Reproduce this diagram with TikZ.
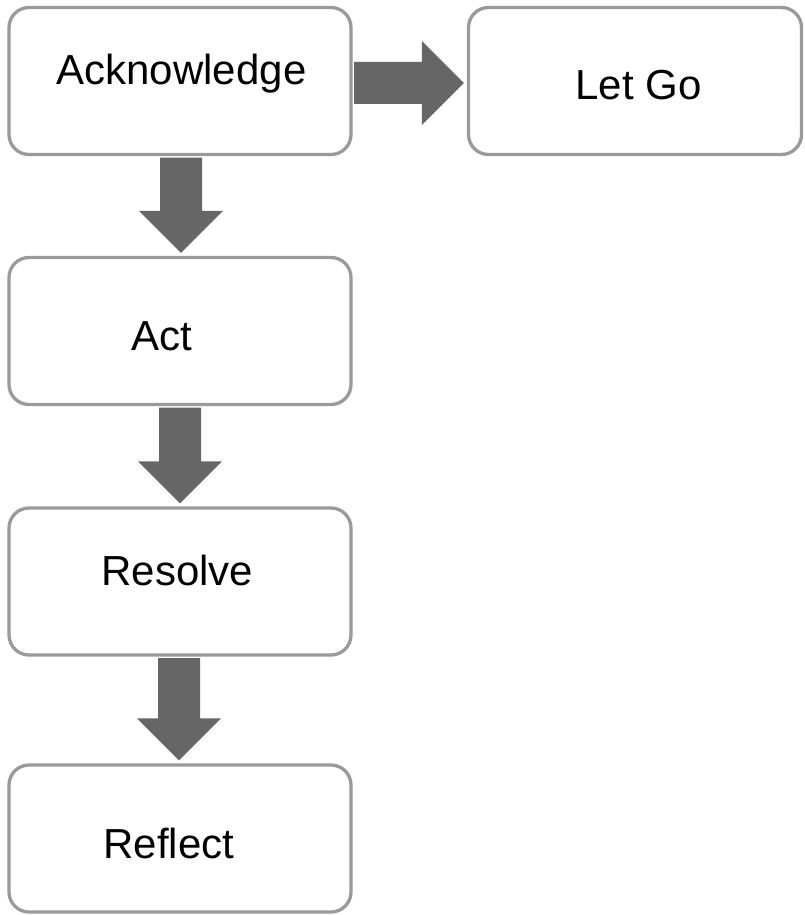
\documentclass[tikz,border=0pt]{standalone}
\usepackage{fontspec}
\setmainfont{Liberation Sans}
\usetikzlibrary{calc}
\definecolor{boxline}{HTML}{9A9A9A}
\definecolor{arrowfill}{HTML}{666666}
\tikzset{
  stepbox/.style={draw=boxline, line width=3.3pt, fill=white, rounded corners=20pt,
    rectangle, inner sep=0pt, minimum height=147pt},
  lbl/.style={anchor=base, inner sep=0pt, font=\fontsize{42}{50}\selectfont},
  fatarrow/.style={fill=arrowfill, draw=none}
}
% thick block arrow pointing down from #1 to #2, shifted sideways by #3
\newcommand{\fatdown}[3]{%
  \fill[fatarrow] let \p1=($(#1.south)+(#3,1.5)$), \p2=(#2.north) in
    (\x1-21pt,\y1) -- (\x1-21pt,\y2+45pt) -- (\x1-42pt,\y2+45pt) -- (\x1,\y2+3pt)
    -- (\x1+42pt,\y2+45pt) -- (\x1+21pt,\y2+45pt) -- (\x1+21pt,\y1) -- cycle;}
% thick block arrow pointing right from #1 to #2
\newcommand{\fatright}[2]{%
  \fill[fatarrow] let \p1=($(#1.east)+(1.5,2)$), \p2=(#2.west) in
    (\x1,\y1+21pt) -- (\x2-45pt,\y1+21pt) -- (\x2-45pt,\y1+42pt) -- (\x2-3pt,\y1)
    -- (\x2-45pt,\y1-42pt) -- (\x2-45pt,\y1-21pt) -- (\x1,\y1-21pt) -- cycle;}
\begin{document}
\begin{tikzpicture}[x=1pt, y=-1pt]
  \useasboundingbox (0,0) rectangle (804,915);

  % boxes
  \node[stepbox, minimum width=342pt] (ack)     at (180,81)    {};
  \node[stepbox, minimum width=333pt] (letgo)   at (635,81)    {};
  \node[stepbox, minimum width=342pt] (act)     at (180,331)   {};
  \node[stepbox, minimum width=342pt] (resolve) at (180,581.5) {};
  \node[stepbox, minimum width=342pt] (reflect) at (180,838.5) {};

  % labels
  \node[lbl] (ackT)     at (181.5,85)  {Acknowledge};
  \node[lbl] (letgoT)   at (638.5,100) {Let Go};
  \node[lbl] (actT)     at (162,350)   {Act};
  \node[lbl] (resolveT) at (177.5,585) {Resolve};
  \node[lbl] (reflectT) at (169,858)   {Reflect};

  % connectors
  \fatright{ack}{letgo}
  \fatdown{ack}{act}{1}
  \fatdown{act}{resolve}{0}
  \fatdown{resolve}{reflect}{-1}
\end{tikzpicture}
\end{document}
